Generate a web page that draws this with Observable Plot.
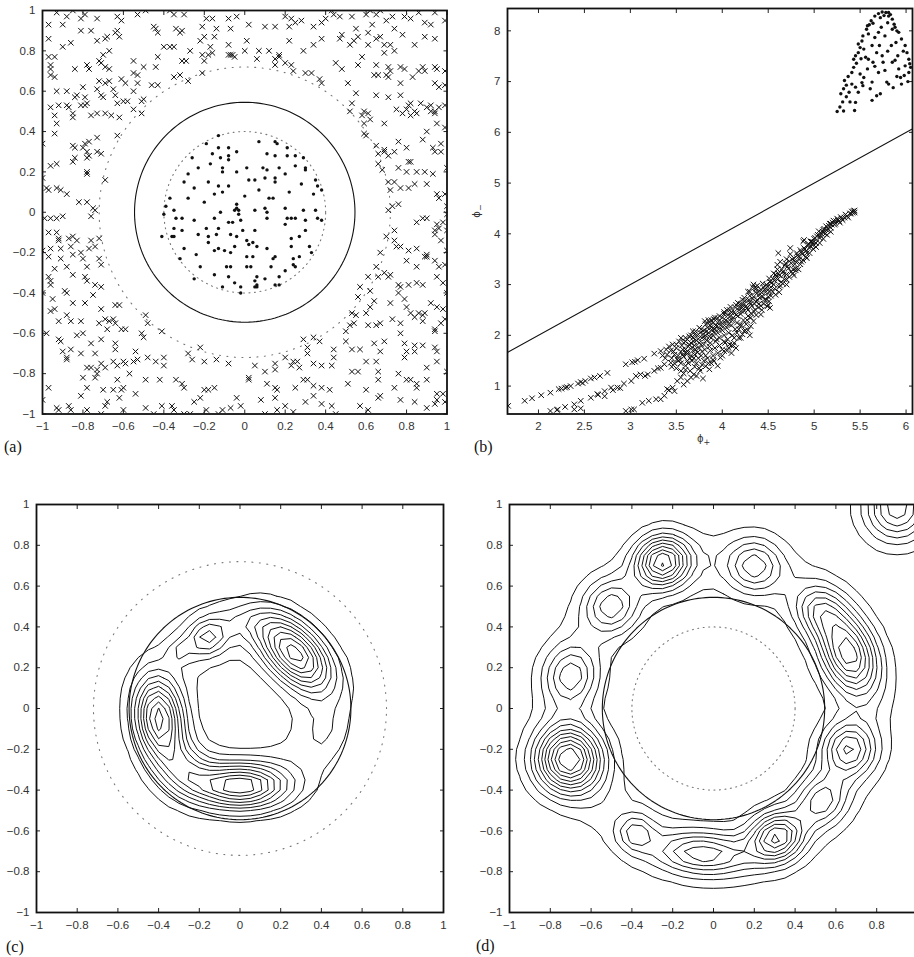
<!DOCTYPE html>
<html>
<head>
<meta charset="utf-8">
<script src="https://cdn.jsdelivr.net/npm/d3@7"></script>
<script src="https://cdn.jsdelivr.net/npm/@observablehq/plot@0.6"></script>
<style>
  html, body { margin: 0; padding: 0; background: #fff; }
  body { position: relative; width: 914px; height: 957px; overflow: hidden; }
  .tag { position: absolute; font-family: "Liberation Serif", "Times New Roman", serif; font-size: 16px; color: #111; line-height: 18px; }
  .axlabel { position: absolute; font-family: "DejaVu Sans", sans-serif; font-size: 10px; color: #333; line-height: 12px; white-space: nowrap; }
</style>
</head>
<body>
<div id="pa"></div><div id="pb"></div><div id="pc"></div><div id="pd"></div>
<div class="tag" style="left:4px;top:438px">(a)</div>
<div class="tag" style="left:474px;top:438px">(b)</div>
<div class="tag" style="left:6px;top:938px">(c)</div>
<div class="tag" style="left:476px;top:937px">(d)</div>
<div class="axlabel" style="left:697px;top:433px">ϕ<sub style="font-size:8px">+</sub></div>
<div class="axlabel" style="left:472px;top:203px;transform:rotate(-90deg);transform-origin:center">ϕ<sub style="font-size:8px">−</sub></div>
<script>
// ---- tick values ----
const ticksUnit = [-1, -0.8, -0.6, -0.4, -0.2, 0, 0.2, 0.4, 0.6, 0.8, 1];
const ticksUnitCut = [-1, -0.8, -0.6, -0.4, -0.2, 0, 0.2, 0.4, 0.6, 0.8];
const ticksPhiPlus = [2, 2.5, 3, 3.5, 4, 4.5, 5, 5.5, 6];
const ticksPhiMinus = [1, 2, 3, 4, 5, 6, 7, 8];

// ---- circles in the input plane ----
const innerRadius = 0.4;     // dotted, class "•"
const boundaryRadius = 0.545; // solid, separating circle
const outerRadius = 0.72;    // dotted, class "×"

// ---- (a) input samples ----
const crossesA = [
[-0.93,0.99],[-0.88,0.97],[-0.85,1.0],[-0.79,0.98],[-0.81,0.96],[-0.9,0.93],[-0.73,0.96],[-0.63,0.97],[-0.61,0.95],[-0.53,0.98],[-0.49,1.0],[-0.37,1.0],[-0.35,0.98],[-0.3,0.98],[-0.19,0.96],[-0.16,0.96],[-0.08,0.96],[-0.04,0.97],[0.02,0.93],[0.1,0.92],[0.15,0.92],[0.2,0.97],[0.23,0.96],[0.25,0.94],[0.28,0.95],[0.34,0.92],[0.38,0.94],[0.4,0.96],[0.43,1.0],[0.44,0.98],[0.47,0.97],[0.53,0.97],[0.6,0.98],[0.62,1.0],[0.65,0.98],[0.67,1.0],[0.73,0.97],[0.79,0.97],[0.86,0.99],[0.94,0.99],[0.99,0.95],[-0.45,0.92],[-0.34,0.91],[-0.31,0.9],[-0.21,0.92],[-0.14,0.91],[-0.07,0.91],[0.22,0.92],[0.55,0.91],[0.63,0.93],[0.7,0.95],[0.74,0.91],[0.82,0.96],[0.89,0.94],[0.92,0.93],[-0.63,0.9],[-0.76,0.9],[-0.81,0.9],[-0.97,0.93],
[-0.97,0.86],[-0.9,0.82],[-0.86,0.84],[-0.73,0.85],[-0.69,0.86],[-0.68,0.87],[-0.64,0.89],[-0.62,0.87],[-0.67,0.8],[-0.7,0.78],[-0.44,0.91],[-0.43,0.89],[-0.4,0.82],[-0.37,0.82],[-0.35,0.82],[-0.32,0.89],[-0.22,0.85],[-0.2,0.87],[-0.15,0.87],[-0.17,0.82],[-0.08,0.83],[0.01,0.85],[0,0.8],[-0.07,0.78],[0.22,0.85],[0.29,0.8],[0.34,0.83],[0.38,0.86],[0.47,0.86],[0.48,0.88],[0.52,0.83],[0.54,0.85],[0.56,0.87],[0.61,0.89],[0.61,0.83],[0.65,0.86],[0.67,0.87],[0.69,0.83],[0.72,0.83],[0.74,0.8],[0.69,0.79],[0.78,0.88],[0.84,0.83],[0.89,0.87],[0.94,0.86],[-0.27,0.8],[0.07,0.8],[0.17,0.78],[0.12,0.8],
[-0.97,0.77],[-0.94,0.77],[-0.96,0.73],[-0.96,0.71],[-0.84,0.71],[-0.78,0.73],[-0.77,0.71],[-0.72,0.75],[-0.71,0.74],[-0.69,0.72],[-0.67,0.71],[-0.55,0.75],[-0.5,0.72],[-0.44,0.72],[-0.43,0.77],[-0.31,0.75],[-0.29,0.75],[-0.2,0.75],[-0.21,0.78],[-0.18,0.78],[-0.16,0.79],[-0.08,0.78],[-0.06,0.78],[-0.05,0.77],[0.06,0.76],[0.15,0.73],[0.15,0.76],[0.17,0.77],[0.2,0.74],[0.23,0.73],[0.24,0.7],[0.45,0.74],[0.48,0.71],[0.56,0.73],[0.58,0.77],[0.65,0.73],[0.66,0.68],[0.71,0.72],[0.72,0.7],[0.77,0.72],[0.79,0.71],[0.86,0.7],[0.88,0.72],[0.94,0.72],[0.95,0.71],[0.99,0.7],
[-0.96,0.68],[-0.94,0.67],[-0.93,0.6],[-0.88,0.6],[-0.83,0.58],[-0.8,0.62],[-0.73,0.61],[-0.72,0.65],[-0.69,0.64],[-0.67,0.65],[-0.65,0.61],[-0.61,0.66],[-0.59,0.64],[-0.55,0.69],[-0.53,0.68],[-0.53,0.64],[-0.46,0.63],[-0.43,0.63],[-0.35,0.67],[-0.32,0.68],[-0.28,0.65],[-0.21,0.69],[0.3,0.69],[0.33,0.69],[0.37,0.66],[0.38,0.64],[0.51,0.64],[0.55,0.59],[0.64,0.68],[0.7,0.68],[0.71,0.67],[0.77,0.64],[0.83,0.67],[0.89,0.7],[0.94,0.64],[0.96,0.62],[0.99,0.63],
[-0.96,0.52],[-0.92,0.53],[-0.88,0.53],[-0.87,0.52],[-0.84,0.57],[-0.81,0.53],[-0.79,0.53],[-0.78,0.54],[-0.79,0.57],[-0.71,0.58],[-0.7,0.57],[-0.64,0.58],[-0.63,0.54],[-0.6,0.55],[-0.58,0.55],[-0.55,0.6],[-0.55,0.51],[-0.51,0.55],[-0.5,0.56],[0.52,0.5],[0.53,0.54],[0.59,0.5],[0.61,0.49],[0.75,0.51],[0.8,0.51],[0.81,0.53],[0.85,0.49],[0.87,0.54],[0.9,0.52],[0.92,0.53],[0.94,0.5],[0.96,0.52],[0.99,0.53],[0.82,0.54],[0.71,0.57],[0.65,0.58],[0.77,0.58],
[-0.94,0.48],[-0.93,0.44],[-0.85,0.47],[-0.85,0.49],[-0.76,0.48],[-0.73,0.49],[-0.69,0.49],[-0.66,0.48],[-0.62,0.47],[-0.51,0.49],[0.58,0.48],[0.59,0.44],[0.62,0.46],[0.69,0.44],[0.78,0.49],[0.82,0.48],[0.84,0.5],[0.92,0.5],[0.94,0.49],[0.95,0.44],[0.99,0.42],[0.9,0.4],
[-1,0.34],[-0.94,0.39],[-0.85,0.33],[-0.84,0.32],[-0.8,0.32],[-0.79,0.34],[-0.77,0.35],[-0.78,0.3],[-0.73,0.37],[-0.63,0.38],[0.59,0.39],[0.6,0.38],[0.65,0.33],[0.69,0.31],[0.76,0.35],[0.8,0.32],[0.88,0.36],[0.93,0.32],[0.97,0.34],[0.74,0.3],
[-0.96,0.23],[-0.93,0.24],[-0.85,0.25],[-0.84,0.27],[-0.78,0.27],[-0.77,0.28],[-0.73,0.3],[-0.71,0.29],[-0.78,0.2],[-0.78,0.19],[-0.69,0.16],[0.66,0.29],[0.69,0.3],[0.71,0.28],[0.66,0.24],[0.68,0.21],[0.76,0.22],[0.81,0.25],[0.82,0.25],[0.8,0.2],[0.85,0.2],[0.89,0.2],[0.94,0.3],[0.97,0.3],[1,0.22],
[-1,0.17],[-0.98,0.12],[-0.97,0.11],[-0.93,0.12],[-0.91,0.11],[-0.88,0.09],[0.71,0.15],[0.72,0.11],[0.74,0.15],[0.77,0.12],[0.81,0.12],[0.84,0.14],[0.9,0.14],[0.93,0.19],[0.95,0.09],[0.96,0.07],[0.99,0.09],
[-0.82,0.05],[-0.78,0.05],[-0.75,0.02],[-0.74,0.01],[-0.76,-0.02],[-0.99,-0.03],[-0.96,-0.03],[-0.93,-0.03],[-0.9,-0.02],[0.71,0.01],[0.73,0.03],[0.76,0.04],[1,0.03],[1,-0.01],
[-0.97,-0.1],[-0.93,-0.1],[-0.92,-0.13],[-0.87,-0.13],[-0.85,-0.12],[0.85,-0.05],[0.88,-0.03],[0.9,-0.03],[0.95,-0.06],[0.96,-0.08],[0.98,-0.05],[1,-0.09],[0.74,-0.09],[0.94,-0.09],
[-1,-0.19],[-0.96,-0.18],[-0.92,-0.14],[-0.91,-0.18],[-0.86,-0.17],[-0.85,-0.21],[-0.83,-0.14],[-0.81,-0.2],[-0.77,-0.18],[-0.76,-0.14],[-0.74,-0.17],[-0.72,-0.13],[0.7,-0.12],[0.74,-0.14],[0.75,-0.17],[0.77,-0.17],[0.81,-0.19],[0.67,-0.2],[0.85,-0.18],[0.9,-0.22],[0.94,-0.11],[0.97,-0.14],[1,-0.19],
[-0.97,-0.22],[-0.91,-0.23],[-0.94,-0.28],[-0.88,-0.27],[-0.8,-0.23],[-0.78,-0.27],[-0.72,-0.23],[-0.71,-0.26],[0.65,-0.27],[0.69,-0.3],[0.72,-0.31],[0.8,-0.24],[0.85,-0.27],[0.89,-0.22],[0.9,-0.21],[0.94,-0.24],[0.96,-0.27],[0.99,-0.26],
[-0.97,-0.32],[-0.96,-0.34],[-0.96,-0.36],[-0.85,-0.31],[-0.79,-0.32],[-0.78,-0.34],[-0.74,-0.36],[-0.75,-0.41],[-0.71,-0.37],[0.61,-0.32],[0.66,-0.32],[0.71,-0.32],[0.76,-0.36],[0.77,-0.37],[0.76,-0.4],[0.81,-0.36],[0.85,-0.35],[0.88,-0.36],[0.95,-0.32],[0.98,-0.35],[1,-0.4],[0.57,-0.37],[0.62,-0.39],
[-1,-0.4],[-0.95,-0.43],[-0.96,-0.49],[-0.94,-0.48],[-0.89,-0.39],[-0.88,-0.4],[-0.85,-0.45],[-0.79,-0.45],[-0.71,-0.48],[-0.64,-0.46],[-0.62,-0.46],[0.56,-0.42],[0.62,-0.47],[0.64,-0.44],[0.72,-0.45],[0.79,-0.43],[0.8,-0.47],[0.82,-0.5],[0.86,-0.5],[0.89,-0.5],[0.92,-0.45],[0.95,-0.47],[0.98,-0.48],[0.53,-0.5],[0.6,-0.5],[0.55,-0.51],
[-0.92,-0.54],[-0.88,-0.51],[-0.86,-0.54],[-0.81,-0.54],[-0.72,-0.55],[-0.69,-0.53],[-0.67,-0.54],[-0.65,-0.53],[-0.64,-0.55],[-0.61,-0.58],[-0.68,-0.58],[-0.59,-0.58],[-0.49,-0.51],[-0.48,-0.55],[0.5,-0.59],[0.52,-0.56],[0.54,-0.55],[0.61,-0.56],[0.65,-0.56],[0.67,-0.55],[0.73,-0.53],[0.77,-0.55],[0.84,-0.52],[0.88,-0.54],[0.94,-0.58],[0.97,-0.55],[0.99,-0.53],[0.88,-0.51],[0.94,-0.59],
[-0.98,-0.6],[-0.92,-0.63],[-0.91,-0.64],[-0.9,-0.69],[-0.86,-0.68],[-0.83,-0.61],[-0.8,-0.6],[-0.76,-0.65],[-0.71,-0.63],[-0.64,-0.65],[-0.64,-0.68],[-0.54,-0.69],[-0.51,-0.6],[-0.5,-0.62],[-0.41,-0.59],[-0.28,-0.7],[-0.22,-0.67],[0.29,-0.63],[0.31,-0.67],[0.34,-0.62],[0.37,-0.64],[0.44,-0.68],[0.5,-0.64],[0.53,-0.68],[0.57,-0.68],[0.64,-0.65],[0.67,-0.69],[0.69,-0.64],[0.77,-0.6],[0.79,-0.65],[0.8,-0.69],[0.84,-0.66],[0.84,-0.69],[0.88,-0.66],[0.94,-0.67],[0.95,-0.69],
[-0.88,-0.72],[-0.88,-0.73],[-0.81,-0.7],[-0.78,-0.77],[-0.76,-0.77],[-0.73,-0.78],[-0.74,-0.7],[-0.71,-0.75],[-0.69,-0.77],[-0.65,-0.74],[-0.63,-0.76],[-0.6,-0.74],[-0.59,-0.75],[-0.55,-0.74],[-0.53,-0.73],[-0.48,-0.72],[-0.44,-0.74],[-0.4,-0.72],[-0.4,-0.76],[-0.26,-0.73],[-0.2,-0.74],[-0.14,-0.73],[-0.08,-0.75],[0.02,-0.82],[0.05,-0.76],[0.1,-0.79],[0.15,-0.75],[0.15,-0.78],[0.2,-0.72],[0.23,-0.76],[0.24,-0.74],[0.26,-0.74],[0.27,-0.77],[0.31,-0.7],[0.34,-0.75],[0.38,-0.76],[0.43,-0.76],[0.44,-0.72],[0.53,-0.79],[0.56,-0.79],[0.6,-0.74],[0.65,-0.74],[0.66,-0.79],[0.79,-0.72],[0.9,-0.77],[0.95,-0.74],[1,-0.79],
[-0.97,-0.87],[-0.8,-0.82],[-0.78,-0.87],[-0.74,-0.82],[-0.73,-0.8],[-0.7,-0.88],[-0.65,-0.88],[-0.63,-0.83],[-0.61,-0.88],[-0.6,-0.87],[-0.57,-0.8],[-0.49,-0.83],[-0.42,-0.83],[-0.34,-0.83],[-0.31,-0.85],[-0.3,-0.87],[-0.2,-0.88],[-0.18,-0.88],[-0.15,-0.87],[0.02,-0.83],[0.11,-0.85],[0.15,-0.87],[0.16,-0.88],[0.25,-0.87],[0.29,-0.83],[0.31,-0.83],[0.34,-0.86],[0.38,-0.87],[0.42,-0.88],[0.51,-0.85],[0.6,-0.88],[0.66,-0.83],[0.74,-0.87],[0.76,-0.8],[0.8,-0.83],[0.82,-0.83],[0.85,-0.85],[0.85,-0.87],[0.9,-0.83],[0.95,-0.9],[0.98,-0.9],
[-1,-0.93],[-0.93,-0.97],[-0.92,-0.98],[-0.87,-0.96],[-0.86,-0.98],[-0.81,-0.91],[-0.78,-0.98],[-0.71,-1.0],[-0.69,-0.96],[-0.68,-0.94],[-0.62,-0.92],[-0.6,-0.98],[-0.54,-0.9],[-0.49,-0.97],[-0.45,-1.0],[-0.41,-0.96],[-0.36,-0.96],[-0.35,-0.98],[-0.3,-1.0],[-0.27,-1.0],[-0.25,-0.94],[-0.22,-0.92],[-0.19,-0.98],[-0.13,-1.0],[-0.11,-0.98],[-0.07,-0.97],[-0.04,-0.92],[-0.02,-0.96],[0.08,-0.93],[0.1,-1.0],[0.15,-0.92],[0.16,-0.98],[0.2,-0.96],[0.24,-0.99],[0.3,-0.94],[0.34,-0.91],[0.38,-0.95],[0.43,-0.96],[0.45,-1.0],[0.57,-0.96],[0.61,-0.98],[0.66,-0.92],[0.67,-0.91],[0.77,-0.93],[0.84,-0.94],[0.9,-0.97],[0.95,-0.93],[0.99,-0.94],[0.94,-0.95]
];
const dotsA = [
[-0.13,0.38],[0.07,0.35],[0.15,0.35],[0.16,0.34],[-0.19,0.34],[-0.13,0.32],[-0.08,0.32],[-0.04,0.3],[0.21,0.32],[-0.26,0.27],[-0.16,0.29],[-0.12,0.27],[-0.08,0.28],[-0.08,0.26],[0.11,0.29],[0.15,0.28],[0.21,0.28],[0.25,0.28],[0.29,0.27],[-0.23,0.22],[-0.17,0.24],[-0.11,0.22],[-0.11,0.2],[-0.04,0.2],[0.01,0.22],[0.09,0.22],[0.11,0.21],[0.17,0.22],[0.25,0.23],[0.3,0.21],[-0.28,0.19],[-0.3,0.15],[-0.18,0.15],[-0.13,0.13],[-0.08,0.13],[0.02,0.16],[0.05,0.16],[0.1,0.17],[0.15,0.17],[0.15,0.15],[0.2,0.19],[0.28,0.14],[0.35,0.16],[0.36,0.13],[0.38,0.11],[0.34,0.09],[-0.37,0.07],[-0.28,0.07],[-0.15,0.09],[-0.11,0.1],[-0.04,0.04],[0.07,0.11],[0.12,0.07],[0.14,0.07],[-0.39,0.03],[-0.35,0.01],[-0.12,0],[-0.05,0.01],[-0.04,0.02],[-0.03,0.01],[0.05,0.01],[0.1,0.02],[0.11,0],[0.2,0.02],[0.29,0.01],[0.35,0.01],[-0.4,-0.01],[-0.34,-0.03],[-0.31,-0.03],[-0.25,-0.04],[-0.15,-0.03],[-0.08,-0.05],[-0.03,-0.01],[-0.02,-0.04],[0.11,-0.03],[0.21,-0.03],[0.23,-0.03],[0.25,-0.03],[0.3,-0.04],[0.36,-0.03],[0.38,-0.04],[-0.35,-0.08],[-0.31,-0.09],[-0.19,-0.08],[-0.13,-0.08],[-0.06,-0.05],[-0.01,-0.09],[0.05,-0.09],[0.2,-0.06],[0.3,-0.09],[-0.41,-0.12],[-0.36,-0.12],[-0.35,-0.12],[-0.23,-0.11],[-0.18,-0.12],[-0.14,-0.11],[-0.07,-0.11],[-0.04,-0.12],[0.01,-0.14],[0.23,-0.13],[0.27,-0.12],[-0.18,-0.15],[-0.13,-0.18],[-0.1,-0.19],[-0.05,-0.17],[0.02,-0.16],[0.04,-0.15],[0.06,-0.17],[0.11,-0.18],[0.23,-0.17],[-0.24,-0.21],[-0.15,-0.19],[-0.07,-0.2],[0.01,-0.22],[0.04,-0.22],[0.14,-0.23],[0.15,-0.22],[0.24,-0.23],[0.27,-0.22],[-0.32,-0.23],[-0.22,-0.27],[-0.09,-0.27],[-0.07,-0.27],[0.01,-0.27],[0.03,-0.27],[0.13,-0.27],[0.24,-0.26],[0.25,-0.27],[-0.15,-0.31],[-0.08,-0.32],[0.06,-0.32],[0.17,-0.32],[0.2,-0.29],[-0.25,-0.33],[-0.05,-0.35],[0.05,-0.34],[0.1,-0.33],[0.15,-0.36],[0.17,-0.36],[-0.11,-0.37],[-0.02,-0.37],[0.05,-0.37],[0.06,-0.37],[-0.02,-0.4],[0.06,-0.36],[-0.2,0.05],[0.22,0.1],[-0.25,0.12],[0.0,0.08],[-0.3,-0.18],[0.32,-0.17],[0.3,0.22],[0.33,-0.2]
];

// ---- (b) feature-space images of the same samples ----
const crossesB = [
[1.67,0.61],[1.85,0.71],[1.93,0.76],[2.03,0.82],[2.13,0.87],[2.22,0.94],[2.25,0.95],[2.31,0.98],[2.35,1.0],[2.43,1.05],[2.46,1.08],[2.51,1.1],[2.57,1.15],[2.61,1.17],[2.67,1.2],[2.75,1.26],[2.95,1.43],[3.02,1.47],[3.08,1.51],[3.15,1.54],[3.26,1.64],[3.33,1.69],[3.39,1.72],[3.42,1.78],[3.46,1.82],[3.53,1.88],[2.48,1.06],[2.29,0.97],[3.05,1.48],
[2.13,0.51],[2.21,0.54],[2.29,0.59],[2.39,0.64],[2.46,0.71],[2.57,0.77],[2.64,0.84],[2.72,0.9],[2.79,0.97],[2.86,0.97],[2.93,1.05],[3.01,1.1],[3.06,1.2],[3.11,1.23],[3.19,1.23],[3.26,1.3],[3.33,1.36],[3.37,1.43],[3.44,1.46],[3.51,1.53],[3.57,1.62],[3.62,1.69],[2.28,0.41],[2.39,0.54],[2.46,0.56],[2.72,0.8],[2.81,0.92],[2.89,0.96],[2.2,0.53],[2.65,0.83],[3.16,1.2],[3.3,1.35],
[2.95,0.51],[3.01,0.54],[3.04,0.54],[3.13,0.67],[3.2,0.71],[3.28,0.74],[3.33,0.74],[3.37,0.81],[3.4,0.94],[3.46,0.97],[3.48,0.9],[3.51,1.1],[3.55,1.17],[3.58,1.03],[3.66,1.17],[3.69,1.23],[3.76,1.3],[3.82,1.39],[3.86,1.33],[3.91,1.49],[3.98,1.56],[4.02,1.69],[4.07,1.75],[4.13,1.85],[4.18,1.95],[4.24,2.08],[4.31,2.18],[4.34,2.28],[4.42,2.41],[4.49,2.57],[4.52,2.54],[4.51,2.67],[3.42,0.92],[3.62,1.1],[3.72,1.2],[3.79,1.15],[3.88,1.45],[4.1,1.8],[4.22,2.02],[4.28,2.1],
[3.5,1.35],[3.55,1.45],[3.6,1.4],[3.65,1.3],[3.72,1.45],[3.75,1.35],[3.8,1.5],[3.85,1.45],[3.9,1.6],[3.95,1.4],[4.0,1.6],[4.05,1.7],[4.1,1.65],[4.12,1.8],[4.15,1.75],[4.2,1.95],[4.25,2.1],[4.3,2.0],[3.45,1.38],[3.58,1.25],
[3.45,1.55],[3.48,1.62],[3.5,1.75],[3.52,1.5],[3.55,1.68],[3.56,1.8],[3.58,1.58],[3.6,1.72],[3.6,1.88],[3.62,1.64],[3.63,1.78],[3.65,1.55],[3.66,1.85],[3.68,1.7],[3.68,1.95],[3.7,1.62],[3.7,1.8],[3.72,1.9],[3.73,2.0],[3.75,1.75],[3.75,1.85],[3.76,2.05],[3.78,1.68],[3.78,1.95],[3.8,2.1],[3.8,1.82],[3.82,2.0],[3.83,1.9],[3.84,2.15],[3.85,2.05],[3.86,1.78],[3.87,2.2],[3.88,1.95],[3.89,2.1],[3.9,2.0],[3.9,2.25],[3.92,2.12],[3.93,1.88],[3.94,2.18],[3.95,2.05],[3.96,2.28],[3.97,1.95],[3.98,2.2],[4.0,2.1],[4.0,2.35],[4.02,2.0],[4.03,2.25],[4.05,2.15],[4.06,2.4],[4.08,2.3],[4.1,2.2],[4.1,2.45],[4.12,2.35],[4.14,2.55],[4.15,2.4],[4.16,2.25],[4.18,2.5],[4.2,2.42],[4.2,2.62],[4.22,2.55],[4.24,2.48],[4.25,2.68],[4.26,2.58],[4.28,2.5],[4.3,2.65],[4.3,2.78],[4.32,2.58],[4.33,2.72],[4.35,2.62],[4.36,2.85],[4.38,2.7],[4.4,2.8],[4.4,2.62],[4.42,2.9],[4.44,2.76],[4.45,2.95],[4.47,2.85],[4.48,3.0],[4.5,2.9],[4.52,3.05],[4.53,2.95],[4.55,3.12],[4.56,3.0],[4.58,3.2],[4.6,3.1],[4.6,3.3],[4.62,3.18],[4.63,3.45],[4.64,3.05],[4.66,3.25],[4.68,3.38],[4.7,3.2],[4.7,3.5],[4.72,3.32],[4.74,3.6],[4.75,3.42],[4.77,3.3],[4.78,3.52],[4.8,3.45],[4.82,3.58],[4.84,3.5],[4.85,3.68],[4.87,3.6],[4.88,3.85],[4.9,3.7],[4.92,3.62],[4.93,3.78],[4.95,3.72],[4.97,3.85],[4.98,3.78],[5.0,3.9],[5.02,3.82],[5.03,3.95],[5.05,4.05],[5.06,3.92],[5.08,4.0],[5.1,4.08],[5.12,4.0],[5.13,4.15],[5.15,4.1],[5.17,4.2],[5.18,4.12],[5.2,4.22],[5.22,4.18],[5.24,4.25],[5.26,4.28],[5.28,4.22],[5.3,4.3],[5.33,4.32],[5.36,4.35],[5.4,4.4],[5.42,4.42],[5.43,4.45],[5.44,4.42],[5.44,4.46],
[4.34,3.0],[4.36,2.95],[4.6,3.39],[4.61,3.62],[4.74,3.72],[4.89,3.88],[4.96,3.85],[5.1,4.04],[5.18,4.2],[3.85,2.3],[3.92,2.35],[4.05,2.5],[3.75,2.15],[3.68,2.08],[3.55,1.95],[4.5,2.6],[4.62,2.85],[4.7,3.0],[4.78,3.18],[4.83,3.3],
[3.52,1.6],[3.57,1.72],[3.61,1.66],[3.64,1.82],[3.67,1.76],[3.69,1.88],[3.71,1.72],[3.74,1.93],[3.77,1.82],[3.79,2.02],[3.81,1.94],[3.83,2.08],[3.86,1.98],[3.88,2.16],[3.91,2.06],[3.93,2.2],[3.96,2.12],[3.99,2.26],[4.01,2.17],[4.04,2.3],[4.07,2.22],[4.09,2.38],[4.11,2.3],[4.13,2.46],[4.17,2.38],[4.19,2.56],[4.21,2.48],[4.23,2.6],[4.27,2.54],[4.29,2.7],[4.31,2.62],[4.34,2.76],[4.37,2.66],[4.39,2.86],[4.41,2.74],[4.43,2.84],[4.46,2.9],[4.49,2.96],[4.51,2.86],[4.54,3.04],[4.57,3.08],[4.59,3.16],[4.61,3.22],[4.65,3.3],[4.67,3.2],[4.69,3.42],[4.71,3.36],[4.73,3.46],[4.76,3.5],[4.79,3.4],[4.81,3.62],[4.83,3.55],[4.86,3.64],[4.89,3.72],[4.91,3.66],[4.94,3.8],[4.96,3.76],[4.99,3.84],[5.01,3.92],[5.04,3.98],[5.07,3.96],[5.09,4.04],[5.11,4.1],[5.14,4.08],[5.16,4.16],[5.19,4.18],[5.21,4.26],[5.23,4.2],[5.25,4.3],[5.27,4.25],[5.29,4.33],[5.31,4.27],[5.34,4.38],[5.37,4.32],[5.39,4.4],[5.41,4.44],
[3.82,2.22],[3.88,2.3],[3.95,2.34],[4.02,2.42],[4.08,2.5],[3.7,2.02],[3.6,1.95],[3.64,1.98],[4.15,2.6],[4.22,2.7],[4.28,2.86],[4.33,2.95],[4.38,2.98],[3.66,1.6],[3.73,1.66],[3.81,1.72],[3.87,1.85],[3.94,1.92],[4.02,1.88],[4.07,2.05],[4.14,2.12],[4.19,2.2],[4.27,2.3],[4.32,2.42],[4.36,2.5],[4.42,2.58],[4.46,2.7],[4.53,2.78],[4.57,2.92],[4.63,2.98],[4.68,3.1],[4.75,3.25],[4.8,3.32],[4.86,3.45],[4.91,3.55],[3.48,1.45],[3.54,1.52],[3.62,1.5],[3.69,1.55],[3.77,1.6],
[3.55,1.3],[3.6,1.32],[3.63,1.45],[3.67,1.5],[3.7,1.38],[3.74,1.55],[3.78,1.42],[3.82,1.6],[3.84,1.55],[3.87,1.7],[3.9,1.52],[3.92,1.75],[3.95,1.65],[3.97,1.8],[4.0,1.72],[4.03,1.85],[4.06,1.92],[4.08,1.82],[4.11,2.0],[4.13,1.95],[4.16,2.05],[4.18,2.12],[4.21,2.2],[4.23,2.3],[4.26,2.22],[4.28,2.38],[4.31,2.35],[4.34,2.48],[4.37,2.4],[4.39,2.55],[4.43,2.5],[4.45,2.62],[4.48,2.7],[4.5,2.76],[4.55,2.86],[4.58,2.8],[4.62,2.95],[4.66,3.02],[4.7,3.1],[4.73,3.15],[4.77,3.22],[4.8,3.28],[4.85,3.4],[4.88,3.48],[4.92,3.52],[4.95,3.62],[4.99,3.7],[5.02,3.74],[5.06,3.82],[5.1,3.9],[5.14,3.98],[5.18,4.04],[3.58,1.85],[3.62,1.92],[3.66,2.0],[3.71,2.08],[3.77,2.12],[3.81,2.28],[3.86,2.26],[3.91,2.32],[3.97,2.38],[4.02,2.46],[4.09,2.56],[4.17,2.64],[4.24,2.74],[4.3,2.86],[4.37,2.92],[4.44,3.02],[4.51,3.12],[4.56,3.22],[3.47,1.68],[3.5,1.82],[3.44,1.7],[3.4,1.62],[3.38,1.55],[3.35,1.6]
];
const dotsB = [
[5.25,6.41],[5.32,6.42],[5.31,6.6],[5.29,6.76],[5.32,6.86],[5.35,6.93],[5.33,7.02],[5.37,7.1],[5.41,7.18],[5.43,7.28],[5.43,7.44],[5.45,7.51],[5.48,7.57],[5.5,7.67],[5.48,7.74],[5.52,7.8],[5.53,7.9],[5.57,8.03],[5.58,8.1],[5.62,8.2],[5.66,8.29],[5.7,8.34],[5.74,8.37],[5.78,8.36],[5.81,8.29],[5.85,8.23],[5.87,8.13],[5.88,8.07],[5.92,7.97],[5.95,7.84],[5.99,7.71],[6.01,7.57],[6.03,7.44],[6.05,7.28],
[5.45,6.59],[5.44,6.43],[5.48,6.79],[5.45,6.89],[5.53,6.92],[5.54,7.08],[5.58,7.25],[5.63,6.99],[5.64,7.38],[5.68,7.57],[5.71,7.71],[5.74,7.51],[5.75,7.38],[5.77,7.22],[5.79,6.99],[5.81,6.95],[5.72,6.76],[5.63,6.63],[5.77,7.9],[5.85,8.03],[5.73,8.07],[5.66,7.87],[5.63,7.71],[5.59,7.44],[5.92,7.25],[5.94,7.08],[5.95,6.95],[5.91,7.51],[5.99,7.31],[5.89,7.77],[5.84,7.71],[5.7,7.97],[5.5,7.15],[5.41,6.95],[5.38,6.79],[5.85,7.38],[6.03,7.18],[5.8,8.16],[5.72,8.26],[5.81,8.36],[5.59,7.94],[5.54,7.64],[5.56,7.48],[5.7,7.18],[5.61,6.86],[5.68,6.72],
[5.46,7.36],[5.51,7.45],[5.6,8.12],[5.64,8.15],[5.76,8.3],[5.83,8.32],[5.9,8.0],[5.97,7.6],[6.02,7.0],[5.98,7.12],[5.88,7.42],[5.8,7.6],[5.66,7.3],[5.52,6.98],[5.39,6.6],[5.35,6.7],[5.28,6.5],[5.86,6.88],[5.9,7.1],[6.04,7.35]
];
const diagonalEnds = [1.5, 6.2]; // the line ϕ− = ϕ+

// ---- (c), (d) estimated densities: bumps [x, y, height, tangential spread, radial spread] ----
const bumpsC = [
  [0.27, 0.27, 0.95, 0.15, 0.085],
  [-0.4, -0.05, 0.95, 0.14, 0.08],
  [0.0, -0.38, 0.9, 0.16, 0.075],
  [-0.16, 0.35, 0.45, 0.07, 0.06],
  [-0.3, 0.28, 0.2, 0.04, 0.04],
  [-0.28, -0.3, 0.4, 0.1, 0.08],
  [0.42, -0.12, 0.12, 0.1, 0.07],
  [0.05, 0.43, 0.16, 0.12, 0.06]
];
const ringC = [0.36, 0.11, 0.1]; // radius, spread, height
const bumpsD = [
  [-0.25, 0.72, 0.9, 0.09, 0.085],
  [0.2, 0.7, 0.45, 0.09, 0.09],
  [-0.5, 0.5, 0.45, 0.09, 0.09],
  [-0.7, 0.16, 0.45, 0.1, 0.09],
  [-0.71, -0.25, 1.1, 0.11, 0.11],
  [0.66, 0.27, 0.85, 0.14, 0.09],
  [0.52, 0.48, 0.4, 0.09, 0.08],
  [0.66, -0.2, 0.6, 0.09, 0.09],
  [0.31, -0.63, 0.8, 0.09, 0.08],
  [-0.38, -0.61, 0.35, 0.06, 0.06],
  [-0.05, -0.71, 0.55, 0.16, 0.07],
  [0.53, -0.45, 0.45, 0.09, 0.08],
  [0.9, 0.98, 0.65, 0.11, 0.11]
];
const ringD = [0.72, 0.11, 0.12];
const contourLevels = [0.08, 0.18, 0.28, 0.38, 0.48, 0.58, 0.68, 0.78, 0.88, 0.98, 1.08];

// ---- helpers ----
const minus = d => (d < 0 ? "\u2212" + String(-d) : String(d));
const circlePoints = r => d3.range(0, 361, 2).map(a => ({x: r * Math.cos(a * Math.PI / 180), y: r * Math.sin(a * Math.PI / 180)}));
function density(bumps, [rr, rs, rh]) {
  return (x, y) => {
    const r = Math.hypot(x, y);
    let v = rh * Math.exp(-((r - rr) ** 2) / (2 * rs * rs));
    for (const [cx, cy, h, st, sr] of bumps) {
      const rc = Math.hypot(cx, cy) || 1, ux = cx / rc, uy = cy / rc;
      const dx = x - cx, dy = y - cy;
      const dr = dx * ux + dy * uy, dt = -dx * uy + dy * ux;
      v += h * Math.exp(-(dr * dr) / (2 * sr * sr) - (dt * dt) / (2 * st * st));
    }
    return v;
  };
}
// iso-lines of a density sampled on a coarse grid over [-1, 1]²
function contourRings(fn, levels, step = 0.05) {
  const n = Math.round(2 / step) + 1;
  const values = new Float64Array(n * n);
  for (let j = 0; j < n; ++j) for (let i = 0; i < n; ++i) values[j * n + i] = fn(-1 + i * step, -1 + j * step);
  const out = [];
  let id = 0;
  for (const c of d3.contours().size([n, n]).thresholds(levels)(values)) {
    for (const poly of c.coordinates) for (const ring of poly) {
      id++;
      for (const [gx, gy] of ring) out.push({x: -1 + (gx - 0.5) * step, y: -1 + (gy - 0.5) * step, ring: id});
    }
  }
  return out;
}
const solidCircle = () => Plot.line(circlePoints(boundaryRadius), {x: "x", y: "y", stroke: "#111", strokeWidth: 1.1, clip: true});
const dottedCircle = (r, gap) => Plot.line(circlePoints(r), {x: "x", y: "y", stroke: "#777", strokeWidth: 1.1, strokeDasharray: `1,${gap}`, clip: true});
const contourLines = rings => Plot.line(rings, {x: "x", y: "y", z: "ring", stroke: "#111", strokeWidth: 1, clip: true});

function panel(id, {left, top, w, h, x, y, xTicks, yTicks, marks}) {
  const ml = 44, mr = 8, mt = 8, mb = 34;
  const chart = Plot.plot({
    width: w + ml + mr, height: h + mt + mb,
    marginLeft: ml, marginRight: mr, marginTop: mt, marginBottom: mb,
    x: {domain: x}, y: {domain: y},
    style: {fontFamily: "'Liberation Sans', Arial, sans-serif", fontSize: "11.5px", color: "#333", background: "transparent", overflow: "visible"},
    marks: [
      ...marks,
      Plot.axisX({anchor: "bottom", ticks: xTicks, tickSize: -4, tickPadding: 12, tickFormat: minus, label: null, stroke: "#222"}),
      Plot.axisX({anchor: "top", ticks: xTicks, tickSize: -4, tickFormat: () => "", label: null, stroke: "#222"}),
      Plot.axisY({anchor: "left", ticks: yTicks, tickSize: -4, tickPadding: 11, tickFormat: minus, label: null, stroke: "#222"}),
      Plot.axisY({anchor: "right", ticks: yTicks, tickSize: -4, tickFormat: () => "", label: null, stroke: "#222"}),
      Plot.frame({stroke: "#111", strokeWidth: 1.8})
    ]
  });
  chart.style.position = "absolute";
  chart.style.left = (left - ml) + "px";
  chart.style.top = (top - mt) + "px";
  document.getElementById(id).appendChild(chart);
}

const xy = {x: d => d[0], y: d => d[1]};

// (a) input space
panel("pa", {
  left: 41.5, top: 9.5, w: 404.5, h: 403.5, x: [-1, 1], y: [-1, 1], xTicks: ticksUnit, yTicks: ticksUnit,
  marks: [
    dottedCircle(outerRadius, 6.5),
    dottedCircle(innerRadius, 4.5),
    solidCircle(),
    Plot.dot(crossesA, {...xy, symbol: "times", r: 2.6, stroke: "#111", strokeWidth: 1, clip: true}),
    Plot.dot(dotsA, {...xy, r: 1.7, fill: "#111", stroke: null})
  ]
});

// (b) feature space
panel("pb", {
  left: 507, top: 7.5, w: 405, h: 405.5, x: [1.663, 6.07], y: [0.45, 8.44], xTicks: ticksPhiPlus, yTicks: ticksPhiMinus,
  marks: [
    Plot.line(diagonalEnds.map(v => ({x: v, y: v})), {x: "x", y: "y", stroke: "#111", strokeWidth: 1.1, clip: true}),
    Plot.dot(crossesB, {...xy, symbol: "times", r: 2.6, stroke: "#111", strokeWidth: 1, clip: true}),
    Plot.dot(dotsB, {...xy, r: 1.7, fill: "#111", stroke: null, clip: true})
  ]
});

// (c) density of the inner class
panel("pc", {
  left: 36, top: 504, w: 407, h: 408, x: [-1, 1], y: [-1, 1], xTicks: ticksUnit, yTicks: ticksUnit,
  marks: [
    dottedCircle(outerRadius, 6.5),
    solidCircle(),
    contourLines(contourRings(density(bumpsC, ringC), contourLevels))
  ]
});

// (d) density of the outer class
panel("pd", {
  left: 509, top: 504, w: 408, h: 408, x: [-1, 1], y: [-1, 1], xTicks: ticksUnitCut, yTicks: ticksUnit,
  marks: [
    dottedCircle(innerRadius, 4.5),
    solidCircle(),
    contourLines(contourRings(density(bumpsD, ringD), contourLevels))
  ]
});
</script>
</body>
</html>
